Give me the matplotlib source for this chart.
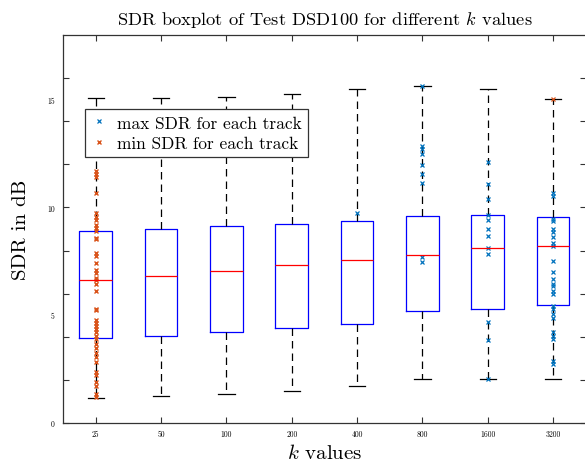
import matplotlib
matplotlib.use('Agg')
import matplotlib.pyplot as plt

plt.rcParams['font.family'] = 'serif'
plt.rcParams['font.serif'] = ['cmr10', 'DejaVu Serif']
plt.rcParams['mathtext.fontset'] = 'cm'
plt.rcParams['axes.formatter.use_mathtext'] = True

# box statistics per k
k_labels = ['25', '50', '100', '200', '400', '800', '1600', '3200']
whisk_lo = [1.16, 1.27, 1.36, 1.48, 1.73, 2.02, 2.05, 2.02]
q1 = [3.94, 4.03, 4.20, 4.41, 4.58, 5.20, 5.31, 5.46]
med = [6.63, 6.84, 7.04, 7.31, 7.56, 7.81, 8.12, 8.19]
q3 = [8.89, 9.00, 9.14, 9.24, 9.37, 9.60, 9.63, 9.57]
whisk_hi = [15.10, 15.10, 15.12, 15.28, 15.49, 15.62, 15.48, 15.03]

# per track max / min SDR markers
max_400 = [9.75]
max_800 = [15.62, 12.84, 12.69, 12.50, 11.99, 11.56, 11.14, 7.72, 7.47]
max_1600 = [12.10, 11.07, 10.37, 9.63, 9.44, 8.98, 8.67, 8.13, 7.86,
            4.69, 3.84, 2.05]
max_3200 = [10.68, 10.52, 9.48, 9.37, 9.01, 8.86, 8.64, 8.33, 8.21, 7.52,
            7.00, 6.67, 6.44, 6.36, 6.13, 5.97, 5.43, 5.28, 5.05, 4.89,
            4.20, 4.04, 3.89, 2.86, 2.73]
min_25 = [11.68, 11.57, 11.42, 10.65, 9.72, 9.57, 9.41, 9.18, 9.03, 8.56,
          8.90, 8.52, 7.87, 7.75, 7.44, 7.10, 6.98, 6.74, 6.64, 6.44, 6.13,
          5.31, 5.25, 4.78, 4.66, 4.50, 4.35, 4.20, 4.04, 3.89, 3.66, 3.50,
          3.27, 3.04, 2.81, 2.35, 2.24, 1.88, 1.73, 1.34, 1.19]
min_3200 = [15.03]

blue = '#0072BD'
orange = '#D95319'

fig = plt.figure(figsize=(5.85, 4.64), dpi=100)
ax = fig.add_axes([0.1077, 0.0862, 0.8937, 0.8362])

positions = list(range(1, len(k_labels) + 1))
stats = []
for i in range(len(k_labels)):
    stats.append({'whislo': whisk_lo[i], 'q1': q1[i], 'med': med[i],
                  'q3': q3[i], 'whishi': whisk_hi[i], 'fliers': []})

ax.bxp(stats, positions=positions, widths=0.5, capwidths=0.25,
       showfliers=False,
       boxprops=dict(color='blue', lw=0.9),
       medianprops=dict(color='red', lw=0.9),
       whiskerprops=dict(color='black', lw=0.9, ls=(0, (6, 4))),
       capprops=dict(color='black', lw=0.9))

ax.plot([5] * len(max_400), max_400, 'x', color=blue, ms=3.5, mew=0.9,
        label='max SDR for each track')
ax.plot([6] * len(max_800), max_800, 'x', color=blue, ms=3.5, mew=0.9)
ax.plot([7] * len(max_1600), max_1600, 'x', color=blue, ms=3.5, mew=0.9)
ax.plot([8] * len(max_3200), max_3200, 'x', color=blue, ms=3.5, mew=0.9)
ax.plot([1] * len(min_25), min_25, 'x', color=orange, ms=3.5, mew=1.0,
        label='min SDR for each track')
ax.plot([8] * len(min_3200), min_3200, 'x', color=orange, ms=3.5, mew=0.9)

ax.set_xlim(0.5, 8.5)
ax.set_ylim(0, 18)
ax.set_xticks(positions)
ax.set_xticklabels(k_labels)

# ticks every 2 dB, labels every 5 dB (as in the original export)
ax.yaxis.remove_overlapping_locs = False
ax.set_yticks(range(0, 17, 2))
ax.set_yticklabels([])
ax.set_yticks([0, 5, 10, 15], minor=True)
ax.set_yticklabels(['0', '5', '10', '15'], minor=True)
ax.tick_params(direction='in', top=True, right=True, labelsize=5.5,
               length=4, width=0.8, color='#333333')
ax.tick_params(axis='y', which='minor', length=0, labelsize=5.5, pad=6,
               right=False)
ax.tick_params(axis='x', pad=5)
for sp in ax.spines.values():
    sp.set_color('#333333')
    sp.set_linewidth(0.9)

ax.set_title('SDR boxplot of Test DSD100 for different $k$ values',
             fontsize=13.3, pad=8)
ax.set_xlabel('$k$ values', fontsize=15, labelpad=3)
ax.set_ylabel('SDR in dB', fontsize=15, labelpad=12)

leg = ax.legend(loc='upper left', bbox_to_anchor=(0.042, 0.809),
                fontsize=12.5, fancybox=False, framealpha=1,
                edgecolor='#333333', handlelength=0.9, handletextpad=0.6,
                borderpad=0.35, labelspacing=0.3, borderaxespad=0)
leg.get_frame().set_linewidth(0.9)

fig.savefig('out.png', dpi=100)
